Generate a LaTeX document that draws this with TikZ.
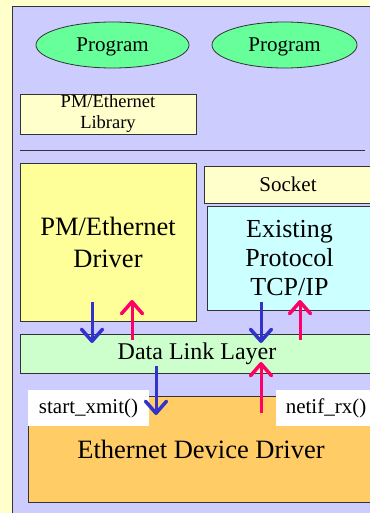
\documentclass[tikz,border=0pt]{standalone}
\usepackage{fontspec}
\setmainfont{Liberation Serif}
\newfontfamily\tms{Liberation Serif}
\usetikzlibrary{shapes.geometric,arrows.meta,calc}
\definecolor{bgyel}{HTML}{FFFFCC}
\definecolor{lav}{HTML}{CCCCFF}
\definecolor{prgreen}{HTML}{66FF99}
\definecolor{drvyel}{HTML}{FFFF99}
\definecolor{tcpcyan}{HTML}{CCFFFF}
\definecolor{dllgreen}{HTML}{CCFFCC}
\definecolor{eddorange}{HTML}{FFCC66}
\definecolor{arrblue}{HTML}{3333CC}
\definecolor{arrpink}{HTML}{FF0066}
\definecolor{edge}{HTML}{333333}
\newcommand{\fs}[2]{\tms\fontsize{#1}{#2}\selectfont}
\tikzset{
  box/.style={draw=edge, line width=0.8pt, inner sep=0pt, outer sep=0pt, anchor=north west, align=center},
  prog/.style={ellipse, draw=edge, line width=0.8pt, fill=prgreen, inner sep=0pt, outer sep=0pt, minimum width=153, minimum height=46, text depth=0pt, font=\fs{21}{24}},
  lbl/.style={fill=white, inner sep=0pt, outer sep=0pt, anchor=north west, minimum height=36, font=\fs{21}{24}},
  tip/.style={-{Straight Barb[length=12pt,width=21pt,line width=3.5pt,round]}},
  bluearr/.style={draw=arrblue, line width=3pt, tip},
  pinkarr/.style={draw=arrpink, line width=3pt, tip}
}
\begin{document}
\begin{tikzpicture}[x=1pt,y=-1pt]
\useasboundingbox (0,0) rectangle (369,513);
\fill[bgyel] (0,0) rectangle (369,513);
\draw[edge, line width=0.8pt, fill=lav] (12.5,6) rectangle (390,530);
\node[prog] (p1) at (112.5,45) {Program};
\node[prog, minimum width=145] (p2) at (284.5,45) {Program};
\node[box, fill=bgyel, minimum width=176, minimum height=40, font=\fs{18.5}{21}] (lib) at (20,94) {PM/Ethernet\\Library};
\draw[edge, line width=0.8pt] (20,150) -- (365,150);
\node[box, fill=drvyel, minimum width=176, minimum height=158, font=\fs{26.5}{32}] (drv) at (20,163) {PM/Ethernet\\Driver};
\node[box, fill=bgyel, minimum width=168, minimum height=37, font=\fs{21}{24}] (sock) at (204,166) {Socket};
\node[box, fill=tcpcyan, minimum width=165, minimum height=104, font=\fs{26}{29}] (tcp) at (207,206) {Existing\\Protocol\\TCP/IP};
\node[box, fill=dllgreen, minimum width=354, minimum height=39, font=\fs{24}{27}] (dll) at (20,334) {Data Link Layer};
\node[box, fill=eddorange, minimum width=346, minimum height=106, font=\fs{26.5}{30}] (edd) at (28,396) {Ethernet Device Driver};
\node[lbl, minimum width=121] (sx) at (28,390) {start\_xmit()};
\node[lbl, minimum width=100] (nr) at (276,390) {netif\_rx()};
\draw[bluearr] ([shift={(72,-19)}]drv.south west) -- ([shift={(72,9)}]dll.north west);
\draw[pinkarr] ([shift={(112,6)}]dll.north west) -- ([shift={(112,-21)}]drv.south west);
\draw[bluearr] ([shift={(54,-8)}]tcp.south west) -- ([shift={(241,9)}]dll.north west);
\draw[pinkarr] ([shift={(280,6)}]dll.north west) -- ([shift={(93,-10)}]tcp.south west);
\draw[bluearr] ([shift={(136,-7)}]dll.south west) -- ([shift={(128,19)}]edd.north west);
\draw[pinkarr] ([shift={(233,17)}]edd.north west) -- ([shift={(241,-11)}]dll.south west);
\end{tikzpicture}
\end{document}
